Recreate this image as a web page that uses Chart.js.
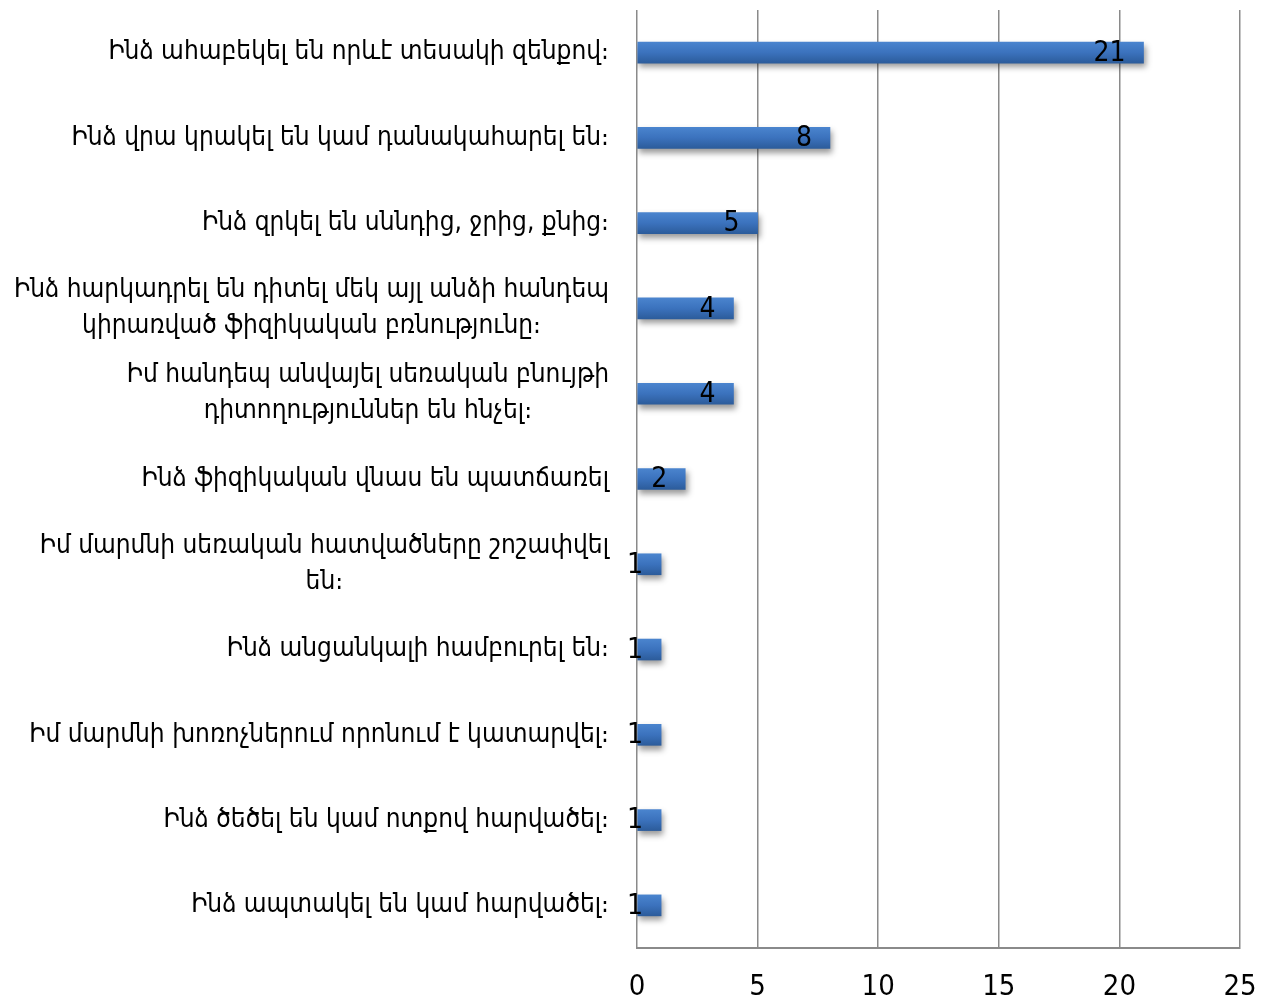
<!DOCTYPE html>
<html><head><meta charset="utf-8">
<script src="https://cdn.jsdelivr.net/npm/chart.js@4/dist/chart.umd.min.js"></script>
<style>html,body{margin:0;padding:0;background:#fff}</style>
</head><body><canvas id="c" width="1263" height="1001"></canvas>
<script>
const categories = [
  ["Ինձ ահաբեկել են որևէ տեսակի զենքով։"],
  ["Ինձ վրա կրակել են կամ դանակահարել են։"],
  ["Ինձ զրկել են սննդից, ջրից, քնից։"],
  ["Ինձ հարկադրել են դիտել մեկ այլ անձի հանդեպ", "կիրառված ֆիզիկական բռնությունը։"],
  ["Իմ հանդեպ անվայել սեռական բնույթի", "դիտողություններ են հնչել։"],
  ["Ինձ ֆիզիկական վնաս են պատճառել"],
  ["Իմ մարմնի սեռական հատվածները շոշափվել", "են։"],
  ["Ինձ անցանկալի համբուրել են։"],
  ["Իմ մարմնի խոռոչներում որոնում է կատարվել։"],
  ["Ինձ ծեծել են կամ ոտքով հարվածել։"],
  ["Ինձ ապտակել են կամ հարվածել։"]
];
const values = [21, 8, 5, 4, 4, 2, 1, 1, 1, 1, 1];
const xTicks = [0, 5, 10, 15, 20, 25];

const LABEL_FONT = '26px "DejaVu Sans Condensed", "DejaVu Sans", sans-serif';
const NUM_FONT = '"Liberation Sans Narrow", "DejaVu Sans Condensed", sans-serif';
const BAR_H = 21;

function barGradient(c) {
  const chart = c.chart;
  const ys = chart.scales && chart.scales.y;
  if (!ys || !chart.chartArea) return '#3C74C0';
  const y = ys.getPixelForValue(c.dataIndex);
  const g = chart.ctx.createLinearGradient(0, y - BAR_H / 2, 0, y + BAR_H / 2);
  g.addColorStop(0, '#4A84CE');
  g.addColorStop(0.5, '#3B72BD');
  g.addColorStop(1, '#2C5C9B');
  return g;
}

const barStyle = {
  id: 'barStyle',
  beforeDatasetsDraw(chart) {
    const ctx = chart.ctx;
    ctx.save();
    ctx.shadowColor = 'rgba(0,0,0,0.4)';
    ctx.shadowBlur = 6;
    ctx.shadowOffsetX = 2;
    ctx.shadowOffsetY = 4;
  },
  afterDatasetsDraw(chart) {
    const ctx = chart.ctx;
    ctx.restore();
    ctx.save();
    ctx.font = '28px ' + NUM_FONT;
    ctx.fillStyle = '#000';
    ctx.textAlign = 'right';
    ctx.textBaseline = 'middle';
    chart.getDatasetMeta(0).data.forEach((el, i) => {
      ctx.fillText(String(values[i]), el.x - 18, el.y + 1);
    });
    ctx.restore();
  }
};

const catLabels = {
  id: 'catLabels',
  afterDraw(chart) {
    const ctx = chart.ctx, ys = chart.scales.y;
    const right = chart.chartArea.left - 28;
    ctx.save();
    ctx.font = LABEL_FONT;
    ctx.fillStyle = '#000';
    ctx.textAlign = 'center';
    ctx.textBaseline = 'middle';
    categories.forEach((lines, i) => {
      const cy = ys.getPixelForTick(i);
      const w = Math.max(...lines.map(l => ctx.measureText(l).width));
      const cx = right - w / 2;
      lines.forEach((l, j) => ctx.fillText(l, cx, cy + (j - (lines.length - 1) / 2) * 36));
    });
    ctx.restore();
  }
};

new Chart(document.getElementById('c'), {
  type: 'bar',
  data: {
    labels: categories,
    datasets: [{ data: values, barThickness: BAR_H, backgroundColor: barGradient, borderWidth: 0 }]
  },
  options: {
    indexAxis: 'y',
    responsive: false,
    animation: false,
    layout: { padding: { top: 10, right: 0, left: 0, bottom: 0 } },
    plugins: { legend: { display: false }, tooltip: { enabled: false } },
    scales: {
      x: {
        min: 0, max: 25,
        afterBuildTicks(s) { s.ticks = xTicks.map(v => ({ value: v })); },
        grid: { color: '#8a8a8a', lineWidth: 1.5, drawTicks: false },
        border: { display: true, color: '#8a8a8a', width: 2 },
        ticks: { color: '#000', padding: 22, maxRotation: 0, font: { family: NUM_FONT, size: 29 } },
        afterFit(s) { s.height = 53; s.paddingRight = 23; s.paddingLeft = 0; }
      },
      y: {
        grid: { display: false },
        border: { display: false },
        ticks: { display: false },
        afterFit(s) { s.width = 637; }
      }
    }
  },
  plugins: [barStyle, catLabels]
});
</script>
</body></html>
